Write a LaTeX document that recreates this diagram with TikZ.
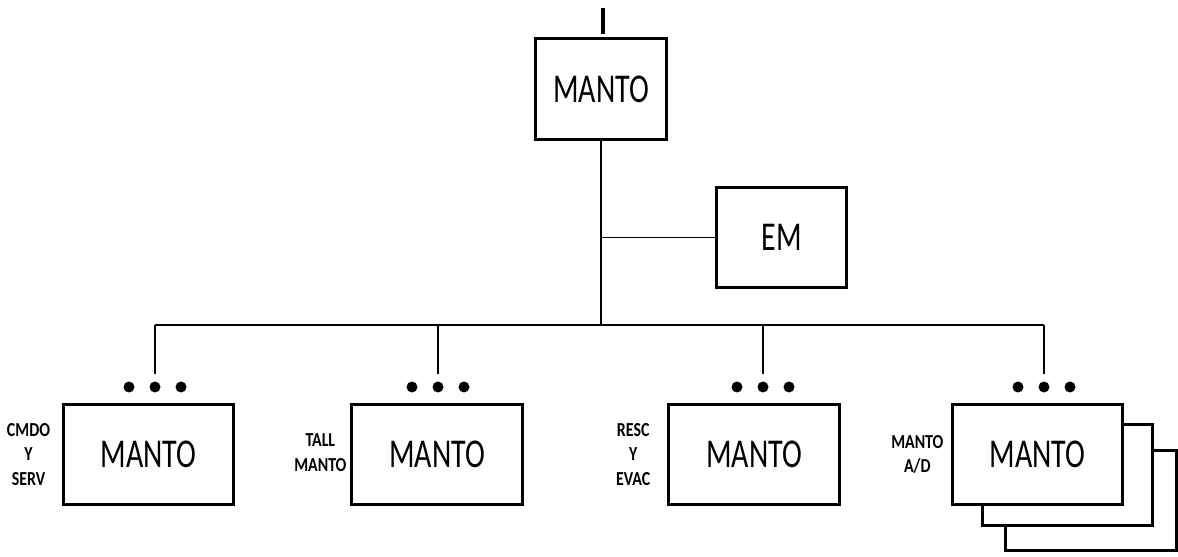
\documentclass[tikz,border=0pt]{standalone}
\usepackage{fontspec}
\usetikzlibrary{positioning, calc}
\newfontfamily\boxfont{Carlito}[FakeStretch=0.73]
\newfontfamily\tagfont{Carlito Bold}[FakeStretch=0.8]
\tikzset{
  every picture/.style={line width=1.1pt},
  unit/.style={draw, fill=white, line width=1.7pt, minimum width=3.42cm, minimum height=2.02cm,
    inner sep=0pt, font=\boxfont\fontsize{23.3}{28}\selectfont},
  tag/.style={align=center, inner sep=0pt, font=\tagfont\fontsize{11.3}{14}\selectfont},
  link/.style={line width=1.1pt},
  feedline/.style={line width=2.4pt},
  dot/.style={fill=black},
}
\begin{document}
\begin{tikzpicture}[x=0.02cm, y=-0.02cm]
  \useasboundingbox (0,0) rectangle (1178,557);
  % ---------- command and staff
  \node[unit, minimum width=2.64cm] (top) at (601,89) {MANTO};
  \node[unit, minimum width=2.62cm] (em) at (781.5,237.5) {EM};
  \coordinate (feed) at (603,8);
  \draw[feedline] (feed) -- ($(feed |- top.north)+(0,-3)$);
  \coordinate (hub) at (601,325);
  \draw[link] (top.south) -- (hub);
  \draw[link] (top.south |- em.west) -- (em.west);
  % ---------- subordinate units
  \node[unit, fill=white] (b4c) at (1091,500.5) {};
  \node[unit, fill=white] (b4b) at (1067.5,475) {};
  \node[unit] (b1) at (148.5,454.5) {MANTO};
  \node[unit] (b2) at (437,454.5) {MANTO};
  \node[unit] (b3) at (754,454.5) {MANTO};
  \node[unit] (b4) at (1037.5,454.5) {MANTO};
  \node[tag, left=6pt of b1] (t1) {CMDO\\Y\\SERV};
  \node[tag, left=1.5pt of b2, yshift=1pt] (t2) {TALL\\MANTO};
  \node[tag, left=9pt of b3] (t3) {RESC\\Y\\EVAC};
  \node[tag, left=3.5pt of b4] (t4) {MANTO\\A/D};
  \coordinate (d1) at (155,325);
  \coordinate (d2) at (438,325);
  \coordinate (d3) at (763,325);
  \coordinate (d4) at (1044,325);
  \draw[link] (d1) -- (d4);
  \foreach \d in {d1, d2, d3, d4} {
    \draw[link] (\d) -- ++(0,49);
    \foreach \k in {-26, 0, 26} \fill[dot] ($(\d)+(\k,62)$) circle (5.5);
  }
\end{tikzpicture}
\end{document}
